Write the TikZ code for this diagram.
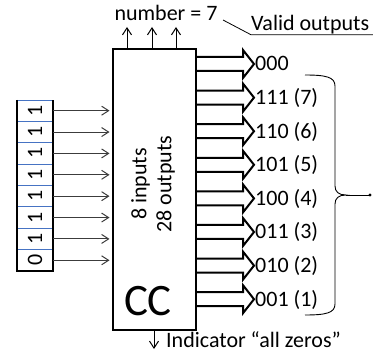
\documentclass[tikz,border=0pt]{standalone}
\usepackage{fontspec}
\setmainfont{Carlito}
\usepackage{xcolor}
\usepackage{tikz}
\usetikzlibrary{arrows.meta, calc, positioning}

\definecolor{cellblue}{RGB}{70,115,195}
\definecolor{wiregray}{RGB}{60,60,60}

% hollow block arrow from the box to an output label
\newcommand{\outarrow}[1]{%
  \draw[blockarr] let \p1=(#1.west), \p2=(cc.east) in
    (\x2,\y1+7pt) -- (\x1-11pt,\y1+7pt) -- (\x1-11pt,\y1+14pt) -- (\p1)
    -- (\x1-11pt,\y1-14pt) -- (\x1-11pt,\y1-7pt) -- (\x2,\y1-7pt);}

\begin{document}
\begin{tikzpicture}[x=1pt, y=-1pt,
    lbl/.style={font=\fontsize{22}{25}\selectfont, inner sep=1pt},
    outlbl/.style={lbl, anchor=west, text height=13.9pt, text depth=0pt},
    box/.style={draw, line width=2},
    cell/.style={lbl, draw=cellblue, line width=0.8, rotate=90, inner sep=0pt,
                 minimum width=21.375, minimum height=36},
    inarr/.style={wiregray, line width=1, -{Straight Barb[length=7pt,width=9pt]}, shorten >=2.5pt},
    toparr/.style={line width=1, -{Straight Barb[length=7pt,width=9pt]}},
    blockarr/.style={line width=2, fill=white, line join=miter}]
    \useasboundingbox (0,0) rectangle (373,353);

    % Circuit box
    \node[box, minimum width=83, minimum height=280] (cc) at (154.5,189.5) {};
    \node[font=\fontsize{45}{45}\selectfont, inner sep=0pt, anchor=base] (cclbl) at (148,316) {CC};
    \node[lbl, rotate=90, align=center] (info) at (153,184) {8 inputs\\28 outputs};

    % Input register
    \foreach \d [count=\i] in {1,1,1,1,1,1,1,0}
        \node[cell] (b\i) at (35,{89.3+21.375*\i}) {\d};
    \draw[line width=2] (17,100) -- (17,271) -- (53,271) -- (53,100);
    \foreach \i in {1,...,8}
        \draw[inarr] (b\i) -- (cc.west |- b\i);

    % Top outputs
    \node[lbl, anchor=base] (num) at (166,21) {number = 7};
    \coordinate (numin) at (166,27);
    \foreach \tx in {127,152,176}
        \draw[toparr] (cc.north -| \tx,0) -- (numin -| \tx,0);
    \node[lbl, inner sep=0pt, anchor=base west] (valid) at (251,31) {Valid outputs};
    \coordinate (callout) at (223,20);
    \coordinate (lineend) at (373,0);
    \draw[line width=0.8] (callout) -- (valid.south west) -- (valid.south -| lineend);

    % Block outputs
    \foreach \t [count=\k from 0] in {000,111 (7),110 (6),101 (5),100 (4),011 (3),010 (2),001 (1)} {
        \node[outlbl] (o\k) at (254,{64+33.6*\k}) {\t};
        \outarrow{o\k}
    }

    % Brace round the valid outputs
    \coordinate (btip) at (346,195);
    \coordinate (bdot) at (370,195);
    \draw[line width=0.9] (305,75) .. controls (326,75) and (335,77) .. (335,86) -- (335,186)
        .. controls (335,192) and (339,195) .. (btip)
        .. controls (339,195) and (335,198) .. (335,204) -- (335,304)
        .. controls (335,313) and (326,315) .. (305,315);
    \draw[line width=0.9] (btip) -- (bdot);
    \fill (bdot) circle (1.6);

    % Indicator
    \node[lbl, inner sep=0pt, anchor=base west] (ind) at (166,348) {Indicator “all zeros”};
    \coordinate (indtip) at (154,349);
    \draw[toparr] (cc.south -| indtip) -- (indtip);
\end{tikzpicture}
\end{document}
